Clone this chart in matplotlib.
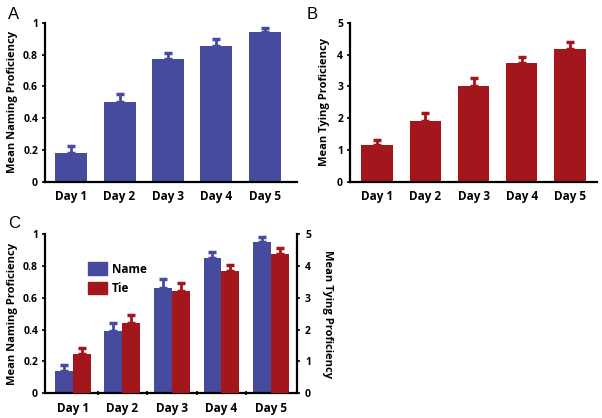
import numpy as np
import matplotlib
matplotlib.use("Agg")
import matplotlib.pyplot as plt
import matplotlib.patches as mpatches

plt.rcParams["font.family"] = ["Open Sans", "DejaVu Sans"]
plt.rcParams["font.weight"] = "bold"

days = ["Day 1", "Day 2", "Day 3", "Day 4", "Day 5"]

# panel A: naming proficiency (0-1)
naming_a = [0.18, 0.50, 0.77, 0.855, 0.943]
naming_a_err = [0.045, 0.055, 0.042, 0.04, 0.027]

# panel B: tying proficiency (0-5)
tying_b = [1.15, 1.92, 3.02, 3.72, 4.18]
tying_b_err = [0.18, 0.25, 0.23, 0.21, 0.22]

# panel C: both, name on left axis, tie on right axis
naming_c = [0.142, 0.393, 0.663, 0.847, 0.952]
naming_c_err = [0.036, 0.05, 0.053, 0.038, 0.027]
tying_c = [1.22, 2.2, 3.21, 3.84, 4.39]
tying_c_err = [0.2, 0.27, 0.24, 0.2, 0.16]

blue = "#474b9d"
red = "#a3161c"

fig = plt.figure(figsize=(6.02, 4.18), dpi=100)


def style_axis(ax):
    ax.spines["top"].set_visible(False)
    ax.spines["right"].set_visible(False)
    ax.spines["left"].set_linewidth(1.6)
    ax.spines["bottom"].set_linewidth(1.6)
    ax.tick_params(axis="x", length=0, labelsize=8.5, pad=6)
    ax.tick_params(axis="y", length=2, width=1.2, labelsize=7.5, pad=3)
    for lbl in ax.get_xticklabels() + ax.get_yticklabels():
        lbl.set_fontweight("bold")


def bars_with_err(ax, x, vals, errs, color, width):
    ax.bar(x, vals, width=width, color=color, zorder=2)
    ax.errorbar(x, vals, yerr=[np.zeros(len(vals)), errs], fmt="none",
                ecolor=color, elinewidth=2, capsize=2.8, capthick=2.5, zorder=1)


x = np.arange(len(days))
ylab_size = 8

# ---- A ----
ax_a = fig.add_axes([0.0748, 0.565, 0.4185, 0.3805])
bars_with_err(ax_a, x, naming_a, naming_a_err, blue, 0.66)
ax_a.set_xlim(-0.536, 4.66)
ax_a.set_ylim(0, 1)
ax_a.set_yticks([0, 0.2, 0.4, 0.6, 0.8, 1])
ax_a.set_yticklabels(["0", "0.2", "0.4", "0.6", "0.8", "1"])
ax_a.set_xticks(x)
ax_a.set_xticklabels(days)
ax_a.set_ylabel("Mean Naming Proficiency", fontsize=ylab_size, fontweight="bold", labelpad=4)
style_axis(ax_a)
fig.text(0.013, 0.955, "A", fontsize=12, fontweight="normal", family="Liberation Sans")

# ---- B ----
ax_b = fig.add_axes([0.5814, 0.565, 0.4103, 0.3805])
bars_with_err(ax_b, x, tying_b, tying_b_err, red, 0.65)
ax_b.set_xlim(-0.56, 4.56)
ax_b.set_ylim(0, 5)
ax_b.set_yticks(range(6))
ax_b.set_xticks(x)
ax_b.set_xticklabels(days)
ax_b.set_ylabel("Mean Tying Proficiency", fontsize=ylab_size, fontweight="bold", labelpad=5)
style_axis(ax_b)
fig.text(0.51, 0.955, "B", fontsize=12, fontweight="normal", family="Liberation Sans")

# ---- C ----
ax_c = fig.add_axes([0.0748, 0.059, 0.4181, 0.381])
w = 0.36
ax_c2 = ax_c.twinx()
bars_with_err(ax_c, x - w / 2, naming_c, naming_c_err, blue, w)
bars_with_err(ax_c2, x + w / 2, tying_c, tying_c_err, red, w)
ax_c.set_xlim(-0.56, 4.52)
ax_c.set_ylim(0, 1)
ax_c2.set_ylim(0, 5)
ax_c.set_yticks([0, 0.2, 0.4, 0.6, 0.8, 1])
ax_c.set_yticklabels(["0", "0.2", "0.4", "0.6", "0.8", "1"])
ax_c2.set_yticks(range(6))
ax_c.set_xticks(x)
ax_c.set_xticklabels(days)
ax_c.set_xticks(x[:-1] + 0.5, minor=True)
ax_c.set_ylabel("Mean Naming Proficiency", fontsize=ylab_size, fontweight="bold", labelpad=4)
ax_c2.set_ylabel("Mean Tying Proficiency", fontsize=ylab_size, fontweight="bold",
                 rotation=270, labelpad=16)
style_axis(ax_c)
ax_c.tick_params(axis="x", which="minor", length=3, width=1.2, direction="inout")
ax_c2.spines["top"].set_visible(False)
ax_c2.spines["left"].set_visible(False)
ax_c2.spines["bottom"].set_visible(False)
ax_c2.spines["right"].set_linewidth(1.6)
ax_c2.tick_params(axis="y", length=2, width=1.2, labelsize=7.5, pad=4)
for lbl in ax_c2.get_yticklabels():
    lbl.set_fontweight("bold")
fig.text(0.013, 0.455, "C", fontsize=12, fontweight="normal", family="Liberation Sans")

handles = [mpatches.Patch(color=blue, label="Name"), mpatches.Patch(color=red, label="Tie")]
ax_c.legend(handles=handles, loc="upper left", bbox_to_anchor=(0.13, 0.89),
            frameon=False, prop={"weight": "bold", "size": 8.5},
            handlelength=1.6, handleheight=1.3, handletextpad=0.4, labelspacing=0.5)

fig.savefig("out.png", dpi=100)
